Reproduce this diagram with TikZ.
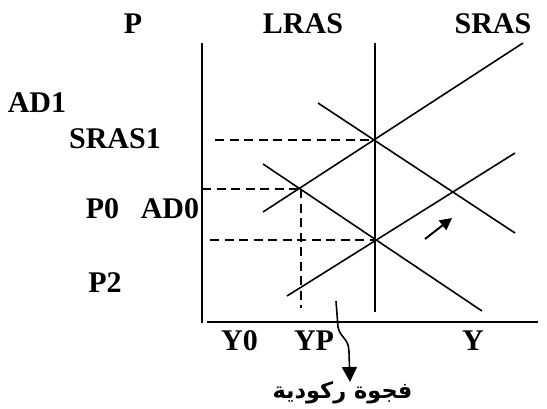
\documentclass[tikz,border=0pt]{standalone}
\usepackage{fontspec}
\setmainfont{Liberation Serif}
\newfontfamily\arabicfont[Script=Arabic]{DejaVu Sans}
\TeXXeTstate=1
\usetikzlibrary{arrows.meta}
\begin{document}
\begin{tikzpicture}[x=1pt,y=-1pt,
  lab/.style={font=\fontsize{30}{36}\selectfont\bfseries, inner sep=0pt, anchor=base},
  axisline/.style={line width=2.2pt},
  curveline/.style={line width=1.6pt},
  guide/.style={line width=1.8pt, dash pattern=on 9pt off 5.5pt},
  shiftarrow/.style={line width=2pt, -{Triangle[length=12pt,width=12pt]}},
  gaparrow/.style={line width=1.6pt, -{Triangle[length=15pt,width=15pt]}}]
\useasboundingbox (0,0) rectangle (547,408);
% axes
\coordinate (vtop) at (202,43);
\coordinate (vbot) at (202,323);
\coordinate (hleft) at (207,322);
\coordinate (hright) at (538,322);
\draw[axisline] (vtop) -- (vbot);
\draw[axisline] (hleft) -- (hright);
% LRAS
\coordinate (ltop) at (375,43);
\coordinate (lbot) at (375,312);
\draw[curveline] (ltop) -- (lbot);
% SRAS
\coordinate (s0a) at (523,43);
\coordinate (s0b) at (263,212);
\draw[curveline] (s0a) -- (s0b);
% SRAS1
\coordinate (s1a) at (287,296);
\coordinate (s1b) at (515,153);
\draw[curveline] (s1a) -- (s1b);
% AD1
\coordinate (d1a) at (318,103);
\coordinate (d1b) at (515,233);
\draw[curveline] (d1a) -- (d1b);
% AD0
\coordinate (d0a) at (263,164);
\coordinate (d0b) at (482,311);
\draw[curveline] (d0a) -- (d0b);
% equilibria
\coordinate (E1) at (375,140);
\coordinate (E0) at (300.7,189);
\coordinate (E2) at (375,240);
% guides
\coordinate (g1) at (215,140);
\coordinate (g0) at (202,189);
\coordinate (g2) at (210,240);
\coordinate (gy) at (300.7,308);
\draw[guide] (g1) -- (E1);
\draw[guide] (g0) -- (E0);
\draw[guide] (g2) -- (E2);
\draw[guide] (E0) -- (gy);
% shift arrow
\coordinate (sa) at (425,239);
\coordinate (sb) at (452,218);
\draw[shiftarrow] (sa) -- (sb);
% gap arrow
\coordinate (ga) at (336,301);
\coordinate (gb) at (350,382);
\draw[gaparrow] (ga) -- (338,327) .. controls (340,338) and (349,338) .. (349,352) -- (gb);
% labels
\node[lab] (P) at (133,33) {P};
\node[lab] (LRAS) at (303,33) {LRAS};
\node[lab] (SRAS) at (493,33) {SRAS};
\node[lab] (AD1) at (37,112) {AD1};
\node[lab] (SRAS1) at (115,148) {SRAS1};
\node[lab] (P0) at (102.5,218) {P0};
\node[lab] (AD0) at (170,218) {AD0};
\node[lab] (P2) at (105,292) {P2};
\node[lab] (Y0) at (239.5,350) {Y0};
\node[lab] (YP) at (314,350) {YP};
\node[lab] (Y) at (473,350) {Y};
\node[inner sep=0pt, anchor=center] (gap) at (342.5,393) {\arabicfont\bfseries\fontsize{22.5}{26}\selectfont\beginR فجوة ركودية\endR};
\end{tikzpicture}
\end{document}
